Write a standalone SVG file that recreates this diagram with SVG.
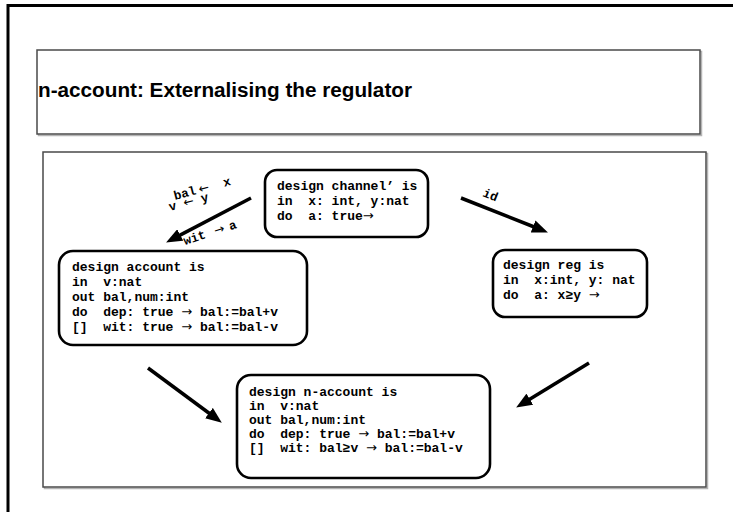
<svg xmlns="http://www.w3.org/2000/svg" width="733" height="512" viewBox="0 0 733 512">
  <style>
    .frame { fill: none; stroke: #000; stroke-width: 3; }
    .panel { fill: #fff; stroke: #4a4a4a; stroke-width: 1.5; }
    .shadow { fill: none; stroke: #b4b4b4; stroke-width: 1.5; }
    .title { font-family: "Comic Sans MS", "Liberation Sans", sans-serif; font-weight: bold; font-size: 20px; fill: #000; }
    .node { fill: #fff; stroke: #000; stroke-width: 2.6; }
    .code { font-family: "Liberation Mono", "DejaVu Sans Mono", monospace; font-weight: bold; font-size: 13px; fill: #000; white-space: pre; }
    .lbl { font-family: "Liberation Mono", "DejaVu Sans Mono", monospace; font-weight: bold; font-size: 12.5px; fill: #000; white-space: pre; }
    .sym { font-family: "DejaVu Sans", sans-serif; font-weight: normal; }
    .edge { fill: none; stroke: #000; stroke-width: 3.5; marker-end: url(#head); }
  </style>
  <defs>
    <marker id="head" markerUnits="userSpaceOnUse" markerWidth="16" markerHeight="13" refX="4" refY="6.5" orient="auto">
      <path d="M0,0 L16,6.5 L0,13 z" fill="#000"/>
    </marker>
  </defs>

  <rect width="733" height="512" fill="#fff"/>
  <!-- slide frame, running off the right and bottom edges -->
  <rect class="frame" x="8" y="5.5" width="800" height="600"/>

  <!-- title panel -->
  <g id="title">
    <rect class="shadow" x="38.5" y="51.5" width="663" height="84"/>
    <rect class="panel" x="37" y="50" width="663" height="84"/>
    <text class="title" x="38" y="97" textLength="374" lengthAdjust="spacingAndGlyphs">n-account: Externalising the regulator</text>
  </g>

  <!-- content panel -->
  <rect class="shadow" x="44.5" y="153.5" width="663" height="335"/>
  <rect class="panel" x="43" y="152" width="663" height="335"/>

  <g id="channel">
    <rect class="node" x="265" y="170" width="163" height="67" rx="12"/>
    <text class="code" x="277" y="190">design channel’ is</text>
    <text class="code" x="277" y="205">in  x: int, y:nat</text>
    <text class="code" x="277" y="220">do  a: true<tspan class="sym">→</tspan></text>
  </g>

  <g id="account">
    <rect class="node" x="59" y="251" width="248" height="94" rx="14"/>
    <text class="code" x="72" y="271">design account is</text>
    <text class="code" x="72" y="286">in  v:nat</text>
    <text class="code" x="72" y="301">out bal,num:int</text>
    <text class="code" x="72" y="316">do  dep: true <tspan class="sym">→</tspan> bal:=bal+v</text>
    <text class="code" x="72" y="331">[]  wit: true <tspan class="sym">→</tspan> bal:=bal-v</text>
  </g>

  <g id="reg">
    <rect class="node" x="493" y="250" width="154" height="67" rx="12"/>
    <text class="code" x="503" y="269">design reg is</text>
    <text class="code" x="503" y="284">in  x:int, y: nat</text>
    <text class="code" x="503" y="299">do  a: x≥y <tspan class="sym">→</tspan></text>
  </g>

  <g id="n-account">
    <rect class="node" x="237" y="375" width="253" height="103" rx="14"/>
    <text class="code" x="249" y="396">design n-account is</text>
    <text class="code" x="249" y="410">in  v:nat</text>
    <text class="code" x="249" y="424">out bal,num:int</text>
    <text class="code" x="249" y="438">do  dep: true <tspan class="sym">→</tspan> bal:=bal+v</text>
    <text class="code" x="249" y="452">[]  wit: bal≥v <tspan class="sym">→</tspan> bal:=bal-v</text>
  </g>

  <g id="connectors">
    <path class="edge" d="M251,198 L176.7,236.9"/>
    <path class="edge" d="M461,198 L536.8,228"/>
    <path class="edge" d="M148,368 L212.2,415.5"/>
    <path class="edge" d="M589,363 L526.4,401.3"/>
    <text class="lbl" transform="translate(175,200) rotate(-15)">bal<tspan class="sym" dx="3">←</tspan>  x</text>
    <text class="lbl" transform="translate(170,211) rotate(-15)">v <tspan class="sym">←</tspan> y</text>
    <text class="lbl" transform="translate(185,245) rotate(-18)">wit <tspan class="sym" dx="2">→</tspan><tspan dx="5">a</tspan></text>
    <text class="lbl" transform="translate(482,196) rotate(22)">id</text>
  </g>
</svg>
